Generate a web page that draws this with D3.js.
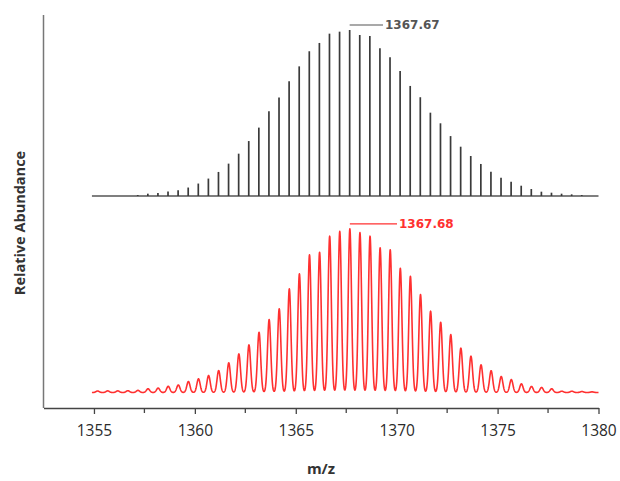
<!DOCTYPE html>
<html>
<head>
<meta charset="utf-8">
<script src="https://cdn.jsdelivr.net/npm/d3@7"></script>
<style>
  html, body { margin: 0; padding: 0; background: #fff; }
  svg { display: block; }
</style>
</head>
<body>
<div id="chart"></div>
<script>
// Theoretical isotope pattern (centroid sticks), relative abundance in %
const theoMz = [
  1357.17, 1357.67, 1358.17, 1358.67, 1359.17, 1359.67, 1360.17, 1360.67, 1361.17, 1361.67,
  1362.17, 1362.67, 1363.17, 1363.67, 1364.17, 1364.67, 1365.17, 1365.67, 1366.17, 1366.67,
  1367.17, 1367.67, 1368.17, 1368.67, 1369.17, 1369.67, 1370.17, 1370.67, 1371.17, 1371.67,
  1372.17, 1372.67, 1373.17, 1373.67, 1374.17, 1374.67, 1375.17, 1375.67, 1376.17, 1376.67,
  1377.17, 1377.67, 1378.17, 1378.67, 1379.17
];
const theoAbund = [
  0.6, 1.4, 1.8, 2.7, 3.4, 5.1, 7.5, 10.5, 14.5, 19.5,
  25.5, 33.1, 41.2, 51.0, 59.3, 69.1, 78.1, 87.2, 92.2, 97.8,
  99.0, 100, 97.0, 96.4, 89.0, 83.6, 75.3, 66.3, 59.5, 50.2,
  43.8, 36.1, 29.7, 24.1, 19.3, 14.6, 11.0, 8.6, 6.2, 4.2,
  2.6, 2.0, 1.4, 1.0, 0.6
];

// Experimental isotope pattern (profile peaks), relative abundance in %
const expMz = [
  1355.18, 1355.68, 1356.18, 1356.68, 1357.18, 1357.68, 1358.18, 1358.68, 1359.18, 1359.68,
  1360.18, 1360.68, 1361.18, 1361.68, 1362.18, 1362.68, 1363.18, 1363.68, 1364.18, 1364.68,
  1365.18, 1365.68, 1366.18, 1366.68, 1367.18, 1367.68, 1368.18, 1368.68, 1369.18, 1369.68,
  1370.18, 1370.68, 1371.18, 1371.68, 1372.18, 1372.68, 1373.18, 1373.68, 1374.18, 1374.68,
  1375.18, 1375.68, 1376.18, 1376.68, 1377.18, 1377.68, 1378.18, 1378.68, 1379.18, 1379.68
];
const expAbund = [
  0.9, 1.0, 1.0, 1.1, 1.3, 2.3, 2.7, 3.8, 4.6, 6.7,
  8.4, 10.4, 13.4, 18.1, 23.6, 29.1, 36.8, 44.6, 51.1, 63.3,
  72.5, 84.1, 85.7, 95.5, 98.5, 100, 97.7, 95.5, 88.4, 87.2,
  75.9, 71.0, 59.9, 49.7, 42.9, 35.4, 27.1, 22.2, 16.9, 13.3,
  9.8, 7.9, 5.3, 3.7, 3.1, 2.3, 0.8, 0.8, 0.6, 0.4
];

// Axis ticks and annotations
const xTicks = [1355, 1360, 1365, 1370, 1375, 1380];
const xMinorTicks = [1357.5, 1362.5, 1367.5, 1372.5, 1377.5];
const theoLabel = "1367.67";
const expLabel = "1367.68";
const spectrumRange = [1354.9, 1380];

const W = 620, H = 481;
const svg = d3.select("#chart").append("svg").attr("width", W).attr("height", H);

const x = d3.scaleLinear().domain([1352.5, 1380]).range([43.5, 598.5]);
const yTheo = d3.scaleLinear().domain([0, 100]).range([196, 30]);
const yExp = d3.scaleLinear().domain([0, 100]).range([392.5, 228.8]);
const axisY = 408;

// Theoretical spectrum: baseline and sticks
svg.append("line")
  .attr("x1", x(spectrumRange[0])).attr("x2", x(spectrumRange[1]))
  .attr("y1", yTheo(0)).attr("y2", yTheo(0))
  .attr("stroke", "#555").attr("stroke-width", 1.6);

svg.append("g").selectAll("line")
  .data(theoMz.map((m, i) => ({ m, a: theoAbund[i] })))
  .join("line")
  .attr("x1", d => x(d.m)).attr("x2", d => x(d.m))
  .attr("y1", yTheo(0)).attr("y2", d => yTheo(d.a))
  .attr("stroke", "#3a3a3a").attr("stroke-width", 1.7);

// Experimental spectrum: profile built from Gaussian peak shapes
const sigma = 0.08;
const grid = d3.range(spectrumRange[0], spectrumRange[1] + 0.001, 0.01);
const profile = grid.map(g => {
  let s = 0;
  for (let i = 0; i < expMz.length; i++) {
    const d = (g - expMz[i]) / sigma;
    if (Math.abs(d) < 8) s += expAbund[i] * Math.exp(-0.5 * d * d);
  }
  return [g, s];
});
svg.append("path")
  .datum(profile)
  .attr("fill", "none")
  .attr("stroke", "#ff3030")
  .attr("stroke-width", 1.6)
  .attr("stroke-linejoin", "round")
  .attr("d", d3.line().x(d => x(d[0])).y(d => yExp(d[1])));

// Peak annotations
function annotate(mz, yScale, label, color, lineEnd) {
  const yy = yScale(100) - 5;
  svg.append("line")
    .attr("x1", x(mz)).attr("x2", lineEnd)
    .attr("y1", yy).attr("y2", yy)
    .attr("stroke", color).attr("stroke-width", 1.2);
  svg.append("text")
    .attr("x", lineEnd + 2).attr("y", yy)
    .attr("dy", "0.35em")
    .attr("font-family", "DejaVu Sans, sans-serif")
    .attr("font-size", 12)
    .attr("font-weight", "bold")
    .attr("fill", color)
    .text(label);
}
annotate(theoMz[theoAbund.indexOf(100)], yTheo, theoLabel, "#555", 383);
annotate(expMz[expAbund.indexOf(100)], yExp, expLabel, "#ff3030", 397);

// Axes
svg.append("line")
  .attr("x1", x(1352.5)).attr("x2", x(1352.5))
  .attr("y1", 15).attr("y2", axisY)
  .attr("stroke", "#777").attr("stroke-width", 1.5);

const xAxis = d3.axisBottom(x).tickValues(xTicks).tickSize(6).tickSizeOuter(0).tickPadding(11)
  .tickFormat(d3.format("d"));
const gx = svg.append("g").attr("transform", `translate(0,${axisY})`).call(xAxis);
gx.select(".domain").attr("stroke", "#444").attr("stroke-width", 1.4);
gx.selectAll(".tick line").attr("stroke", "#444").attr("stroke-width", 1.3);
gx.selectAll(".tick text")
  .attr("font-family", "Open Sans, sans-serif")
  .attr("font-size", 15.5)
  .attr("fill", "#2a2a2a");

svg.append("g").selectAll("line")
  .data(xMinorTicks)
  .join("line")
  .attr("x1", d => x(d)).attr("x2", d => x(d))
  .attr("y1", axisY).attr("y2", axisY + 5)
  .attr("stroke", "#444").attr("stroke-width", 1.3);

// Axis titles
svg.append("text")
  .attr("x", (x(1352.5) + x(1380)) / 2).attr("y", 469)
  .attr("text-anchor", "middle")
  .attr("dy", "0.35em")
  .attr("font-family", "Open Sans, sans-serif")
  .attr("font-size", 15)
  .attr("font-weight", "bold")
  .attr("fill", "#333")
  .text("m/z");

svg.append("text")
  .attr("transform", "translate(20,223) rotate(-90)")
  .attr("text-anchor", "middle")
  .attr("dy", "0.35em")
  .attr("font-family", "Open Sans, sans-serif")
  .attr("font-size", 14.5)
  .attr("font-weight", "bold")
  .attr("fill", "#333")
  .text("Relative Abundance");
</script>
</body>
</html>
